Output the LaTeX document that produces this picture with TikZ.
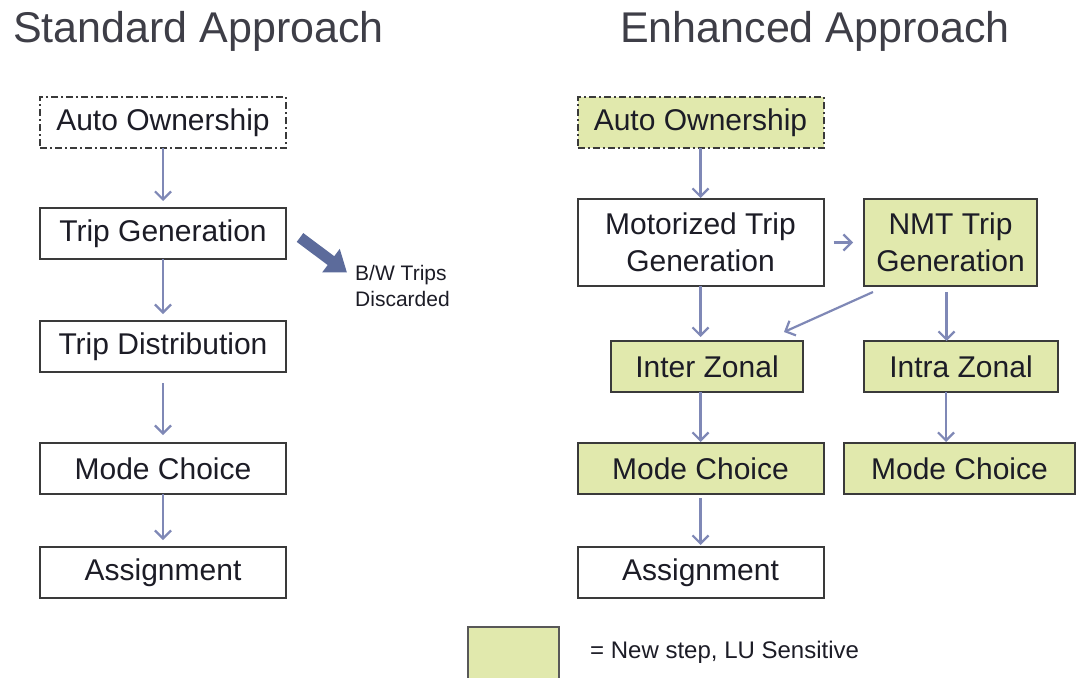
\documentclass[tikz,border=0pt]{standalone}
\usepackage{fontspec}
\setmainfont{Liberation Sans}
\usepackage{xcolor}
\usepackage{tikz}
\usetikzlibrary{arrows.meta,positioning,calc}
\definecolor{apInk}{HTML}{1C1C26}
\definecolor{apEdge}{HTML}{3A3A3A}
\definecolor{apGreen}{HTML}{E1E9AD}
\definecolor{apLink}{HTML}{7F88B6}
\definecolor{apBlock}{HTML}{5C6B9B}
\tikzset{
  stepbox/.style={rectangle,draw=apEdge,line width=2pt,fill=white,
    minimum width=246pt,minimum height=51pt,inner sep=0pt,outer sep=0pt,
    align=center,font=\fontsize{30}{37}\selectfont,text=apInk},
  newbox/.style={stepbox,fill=apGreen},
  optbox/.style={dash pattern=on 7pt off 3pt on 2pt off 3pt},
  ttl/.style={anchor=base west,inner sep=0pt,
    font=\fontsize{43}{50}\selectfont,text=apInk!85},
  note/.style={anchor=base west,inner sep=0pt,align=left,
    font=\fontsize{21}{26}\selectfont,text=apInk},
  arr/.style={-{Straight Barb[length=8pt,width=16pt]},line width=2.2pt,color=apLink},
  fat/.style={-{Triangle[length=20pt,width=28pt]},line width=11pt,color=apBlock},
}
\begin{document}
\begin{tikzpicture}[x=1pt,y=-1pt]
  \useasboundingbox (0,0) rectangle (1083,677);

  \node[ttl] (t1) at (13,43) {Standard Approach};
  \node[ttl] (t2) at (620,43) {Enhanced Approach};

  % standard approach
  \node[stepbox,optbox] (ao1) at (163,122.5) {Auto Ownership};
  \node[stepbox,below=60pt of ao1] (tg1) {Trip Generation};
  \node[stepbox,below=62pt of tg1] (td1) {Trip Distribution};
  \node[stepbox,below=71pt of td1] (mc1) {Mode Choice};
  \node[stepbox,below=53pt of mc1] (as1) {Assignment};

  \node[note] (bw) at (355,306) {B/W Trips\\Discarded};
  \draw[fat] ([shift={(14,4)}]tg1.east) -- ([shift={(-8,8)}]bw.north west);

  \foreach \from/\to in {ao1/tg1,tg1/td1,mc1/as1}
    \draw[arr,shorten >=7pt] (\from) -- (\to);
  \draw[arr,shorten <=11pt,shorten >=8pt] (td1) -- (mc1);

  % enhanced approach
  \node[newbox,optbox] (ao2) at (700.5,122.5) {Auto Ownership};
  \node[stepbox,minimum height=87pt,below=51pt of ao2] (mtg)
    {Motorized Trip\\Generation};
  \node[newbox,minimum width=173pt,minimum height=87pt] (nmt) at (950.5,242.5)
    {NMT Trip\\Generation};
  \node[newbox,minimum width=192pt] (inter) at (707,366.5) {Inter Zonal};
  \node[newbox,minimum width=194pt] (intra) at (961,366.5) {Intra Zonal};
  \node[newbox] (mc2) at (700.5,468.5) {Mode Choice};
  \node[newbox,minimum width=231pt] (mc3) at (959.5,468.5) {Mode Choice};
  \node[stepbox,below=53pt of mc2] (as2) {Assignment};

  \draw[arr,shorten >=1pt] (ao2) -- (mtg);
  \draw[arr,shorten <=10pt,shorten >=11pt] (mtg) -- (nmt);
  \draw[arr,shorten >=4pt] (mtg.south) -- (mtg.south |- inter.north);
  \draw[arr] ([xshift=9pt,yshift=-6pt]nmt.south west)
    -- ([xshift=-19pt,yshift=9pt]inter.north east);
  \draw[arr,shorten <=6pt] ([xshift=-4pt]nmt.south)
    -- ([xshift=-4pt]nmt.south |- intra.north);
  \draw[arr,shorten >=1pt] (inter.south -| mc2.north) -- (mc2.north);
  \draw[arr,shorten >=1pt] ([xshift=-15pt]intra.south)
    -- ([xshift=-15pt]intra.south |- mc3.north);
  \draw[arr,shorten <=4pt,shorten >=2pt] (mc2) -- (as2);

  % legend
  \node[newbox,draw=apEdge!85,line width=2.5pt,minimum width=91pt,
    minimum height=54pt] (key) at (513.5,654) {};
  \node[anchor=base west,inner sep=0pt,font=\fontsize{24}{28}\selectfont,
    text=apInk] (keytxt) at (590,658) {= New step, LU Sensitive};
\end{tikzpicture}
\end{document}
